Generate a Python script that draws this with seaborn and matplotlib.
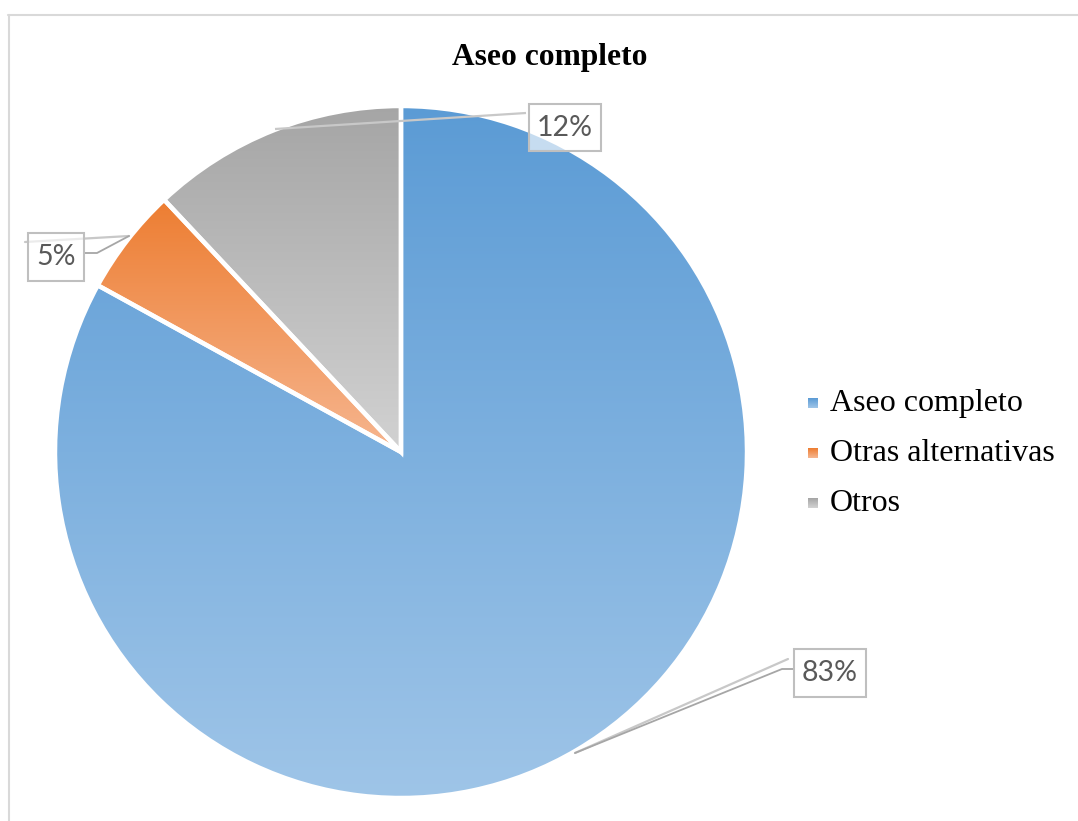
import numpy as np
import matplotlib
matplotlib.use("Agg")
import matplotlib.pyplot as plt
from matplotlib.patches import Rectangle
from matplotlib.colors import to_rgb
import seaborn as sns

sns.set_theme(style="white")
plt.rcParams['font.family'] = ['Liberation Serif', 'DejaVu Serif']

# ---- data ----
title = "Aseo completo"
categories = ["Aseo completo", "Otras alternativas", "Otros"]
values = [83, 5, 12]
top_colors = ["#5B9BD5", "#ED7D31", "#A5A5A5"]
bottom_colors = ["#9FC5E8", "#F6B690", "#D2D2D2"]

W, H = 1078, 821
fig = plt.figure(figsize=(W / 100, H / 100), dpi=100)
ax = fig.add_axes([0, 0, 1, 1])

def Y(py):
    return H - py

cx, cy, R = 401, 452, 346
wedges, _ = ax.pie(values, startangle=90, counterclock=False, center=(cx, Y(cy)),
                   radius=R, wedgeprops=dict(edgecolor="white", linewidth=3.2))

for w, c0, c1 in zip(wedges, top_colors, bottom_colors):
    w.set_facecolor("none")
    w.set_zorder(3)
    verts = w.get_path().vertices
    ymin, ymax = verts[:, 1].min(), verts[:, 1].max()
    xmin, xmax = verts[:, 0].min(), verts[:, 0].max()
    n = 256
    t = np.linspace(0, 1, n)[:, None]
    a, b = np.array(to_rgb(c0)), np.array(to_rgb(c1))
    grad = (a[None, :] * (1 - t) + b[None, :] * t)[:, None, :]
    im = ax.imshow(grad, extent=[xmin - 2, xmax + 2, ymin - 2, ymax + 2],
                   origin="upper", aspect="auto", zorder=2, interpolation="bilinear")
    im.set_clip_path(w)

# frame
ax.plot([8, W], [Y(15), Y(15)], color="#D9D9D9", lw=1.5, zorder=1)
ax.plot([9, 9], [Y(15), Y(H)], color="#D9D9D9", lw=1.5, zorder=1)

# title
ax.text(550, Y(57), title, ha="center", va="center", fontsize=22.7,
        fontweight="bold", color="black", zorder=5)

# leader lines
lc1, lc2 = "#C8C8C8", "#A6A6A6"
ax.plot([275, 526], [Y(129), Y(113)], color=lc1, lw=1.6, zorder=4, solid_capstyle="butt")
ax.plot([25, 129], [Y(242), Y(236)], color=lc1, lw=1.6, zorder=4)
ax.plot([84, 97, 129], [Y(253), Y(253), Y(236)], color=lc2, lw=1.3, zorder=4)
ax.plot([575, 788], [Y(753), Y(659)], color=lc1, lw=1.6, zorder=4)
ax.plot([575, 782, 794], [Y(753), Y(669), Y(669)], color=lc2, lw=1.3, zorder=4)

# data labels
boxes = {0: (794, 649, 866, 697), 1: (28, 233, 84, 281), 2: (529, 104, 601, 151)}
for i, v in enumerate(values):
    x0, y0, x1, y1 = boxes[i]
    ax.add_patch(Rectangle((x0, Y(y1)), x1 - x0, y1 - y0, facecolor="white",
                           alpha=0.65, edgecolor="none", zorder=5))
    ax.add_patch(Rectangle((x0, Y(y1)), x1 - x0, y1 - y0, facecolor="none",
                           edgecolor="#BFBFBF", lw=1.5, zorder=6))
    ax.text((x0 + x1) / 2, Y((y0 + y1) / 2), f"{v}%", ha="center", va="center",
            fontsize=20.5, color="#595959", family=["Lato", "DejaVu Sans"], zorder=7)

# legend
leg_y = [403, 453, 503]
for cat, c0, c1, ly in zip(categories, top_colors, bottom_colors, leg_y):
    t = np.linspace(0, 1, 32)[:, None]
    a, b = np.array(to_rgb(c0)), np.array(to_rgb(c1))
    grad = (a[None, :] * (1 - t) + b[None, :] * t)[:, None, :]
    ax.imshow(grad, extent=[808, 818, Y(ly + 5), Y(ly - 5)], origin="upper",
              aspect="auto", zorder=5)
    ax.text(830, Y(ly), cat, ha="left", va="center", fontsize=23, color="black", zorder=5)

ax.set_xlim(0, W)
ax.set_ylim(0, H)
ax.set_aspect("equal")
ax.axis("off")
fig.savefig("out.png", dpi=100, facecolor="white")
